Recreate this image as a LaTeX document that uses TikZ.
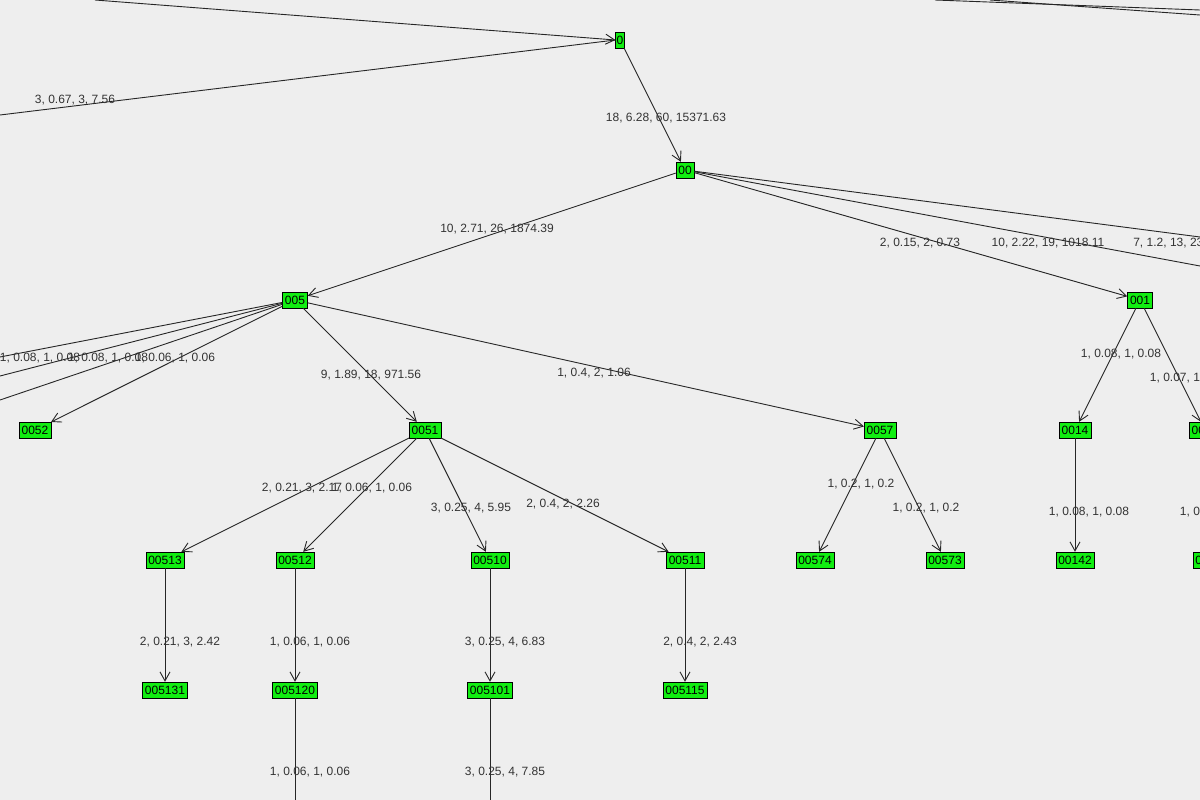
\documentclass[tikz,border=0pt]{standalone}
\usepackage{fontspec}
\setmainfont{Liberation Sans}
\usetikzlibrary{arrows.meta}
\definecolor{bg}{HTML}{EEEEEE}
\definecolor{ng}{HTML}{11EE11}
\definecolor{tx}{HTML}{333333}
\begin{document}
\begin{tikzpicture}[x=1pt,y=-1pt,
  nd/.style={draw=black,fill=ng,inner xsep=2.5pt,inner ysep=1.5pt,minimum height=16pt,font=\fontsize{12}{12}\selectfont},
  lb/.style={font=\fontsize{12}{12}\selectfont,text=tx,inner sep=0pt},
  ed/.style={draw=black!85,line width=0.9pt},
  ar/.style={ed,-{Straight Barb[length=9pt,width=10pt]}}]
\fill[bg] (0,0) rectangle (1200,800);
\useasboundingbox (0,0) rectangle (1200,800);
\clip (0,0) rectangle (1200,800);
\node[nd,inner xsep=1pt] (n0) at (620,40) {0};
\node[nd] (n00) at (685,170) {00};
\node[nd] (n005) at (295,300) {005};
\node[nd] (n001) at (1140,300) {001};
\node[nd] (n0052) at (35,430) {0052};
\node[nd] (n0051) at (425,430) {0051};
\node[nd] (n0057) at (880,430) {0057};
\node[nd] (n0014) at (1075,430) {0014};
\node[nd] (n0013) at (1205,430) {0013};
\node[nd] (n00513) at (165,560) {00513};
\node[nd] (n00512) at (295,560) {00512};
\node[nd] (n00510) at (490,560) {00510};
\node[nd] (n00511) at (685,560) {00511};
\node[nd] (n00574) at (815,560) {00574};
\node[nd] (n00573) at (945,560) {00573};
\node[nd] (n00142) at (1075,560) {00142};
\node[nd] (n00131) at (1212,560) {00131};
\node[nd] (n005131) at (165,690) {005131};
\node[nd] (n005120) at (295,690) {005120};
\node[nd] (n005101) at (490,690) {005101};
\node[nd] (n005115) at (685,690) {005115};
\coordinate (tl) at (95,0);
\coordinate (ll) at (0,115);
\coordinate (tr1a) at (935,0); \coordinate (tr1b) at (1200,10);
\coordinate (tr2a) at (990,0); \coordinate (tr2b) at (1200,15);
\coordinate (r1) at (1200,237);
\coordinate (r2) at (1200,266);
\coordinate (l1) at (0,357);
\coordinate (l2) at (0,376);
\coordinate (l3) at (0,400);
\coordinate (b1) at (295,800);
\coordinate (b2) at (490,800);
\draw[ar] (tl) -- (n0.west);
\draw[ed] (n0.west) -- (ll);
\draw[ed] (tr1a) -- (tr1b);
\draw[ed] (tr2a) -- (tr2b);
\draw[ar] (n0) -- (n00);
\draw[ar] (n00) -- (n005);
\draw[ar] (n00) -- (n001);
\draw[ed] (n00) -- (r1);
\draw[ed] (n00) -- (r2);
\draw[ed] (n005) -- (l1);
\draw[ed] (n005) -- (l2);
\draw[ed] (n005) -- (l3);
\draw[ar] (n005) -- (n0052);
\draw[ar] (n005) -- (n0051);
\draw[ar] (n005) -- (n0057);
\draw[ar] (n001) -- (n0014);
\draw[ar] (n001) -- (n0013);
\draw[ar] (n0051) -- (n00513);
\draw[ar] (n0051) -- (n00512);
\draw[ar] (n0051) -- (n00510);
\draw[ar] (n0051) -- (n00511);
\draw[ar] (n0057) -- (n00574);
\draw[ar] (n0057) -- (n00573);
\draw[ar] (n0014) -- (n00142);
\draw[ar] (n0013) -- (n00131);
\draw[ar] (n00513) -- (n005131);
\draw[ar] (n00512) -- (n005120);
\draw[ar] (n00510) -- (n005101);
\draw[ar] (n00511) -- (n005115);
\draw[ed] (n005120) -- (b1);
\draw[ed] (n005101) -- (b2);
\node[lb] (t1) at (75,100) {3, 0.67, 3, 7.56};
\node[lb] (t2) at (666,118) {18, 6.28, 60, 15371.63};
\node[lb] (t3) at (497,229) {10, 2.71, 26, 1874.39};
\node[lb] (t4) at (920,243) {2, 0.15, 2, 0.73};
\node[lb] (t5) at (1048,243) {10, 2.22, 19, 1018.11};
\node[lb] (t6) at (1170,243) {7, 1.2, 13, 23.};
\node[lb] (t7) at (40,358) {1, 0.08, 1, 0.08};
\node[lb] (t8) at (108,358) {1, 0.08, 1, 0.08};
\node[lb] (t9) at (175,358) {1, 0.06, 1, 0.06};
\node[lb] (t10) at (371,375) {9, 1.89, 18, 971.56};
\node[lb] (t11) at (594,373) {1, 0.4, 2, 1.06};
\node[lb] (t12) at (1121,354) {1, 0.08, 1, 0.08};
\node[lb] (t13) at (1190,378) {1, 0.07, 1, 0.07};
\node[lb] (t14) at (302,488) {2, 0.21, 3, 2.17};
\node[lb] (t15) at (372,488) {1, 0.06, 1, 0.06};
\node[lb] (t16) at (471,508) {3, 0.25, 4, 5.95};
\node[lb] (t17) at (563,504) {2, 0.4, 2, 2.26};
\node[lb] (t18) at (861,484) {1, 0.2, 1, 0.2};
\node[lb] (t19) at (926,508) {1, 0.2, 1, 0.2};
\node[lb] (t20) at (1089,512) {1, 0.08, 1, 0.08};
\node[lb] (t21) at (1220,512) {1, 0.07, 1, 0.07};
\node[lb] (t22) at (180,642) {2, 0.21, 3, 2.42};
\node[lb] (t23) at (310,642) {1, 0.06, 1, 0.06};
\node[lb] (t24) at (505,642) {3, 0.25, 4, 6.83};
\node[lb] (t25) at (700,642) {2, 0.4, 2, 2.43};
\node[lb] (t26) at (310,772) {1, 0.06, 1, 0.06};
\node[lb] (t27) at (505,772) {3, 0.25, 4, 7.85};
\end{tikzpicture}
\end{document}
